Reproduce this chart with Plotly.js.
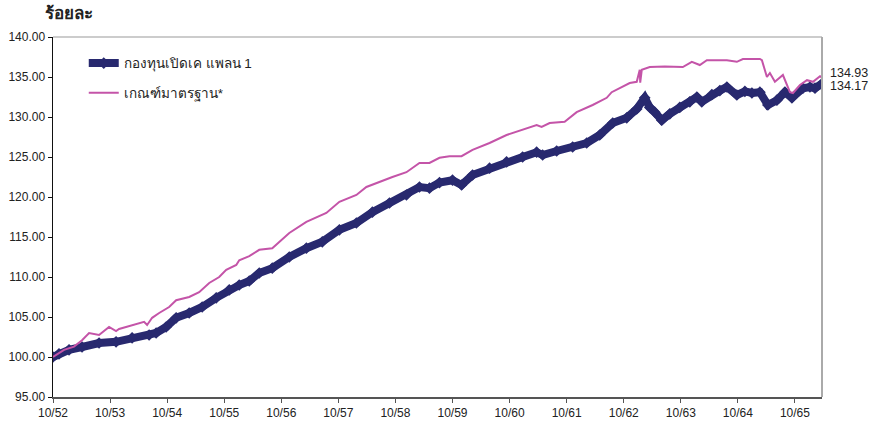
<!DOCTYPE html>
<html>
<head>
<meta charset="utf-8">
<script src="https://cdn.plot.ly/plotly-3.0.1.min.js"></script>
<style>html,body{margin:0;padding:0;background:#fff;}#chart{width:877px;height:421px;}</style>
</head>
<body>
<div id="chart"></div>
<script>
// x: years elapsed since 10/52
const tickVals = [0,1,2,3,4,5,6,7,8,9,10,11,12,13];
const tickLabels = ["10/52","10/53","10/54","10/55","10/56","10/57","10/58","10/59","10/60","10/61","10/62","10/63","10/64","10/65"];

const fundX = [0,0.105,0.281,0.509,0.807,1.105,1.386,1.684,1.807,1.982,2.158,2.386,2.614,2.860,3.088,3.263,3.439,3.614,3.842,4.140,4.439,4.719,5.018,5.316,5.596,5.895,6.193,6.421,6.596,6.772,7.000,7.158,7.351,7.649,7.947,8.228,8.474,8.579,8.825,9.105,9.351,9.579,9.807,10.053,10.228,10.368,10.456,10.544,10.667,10.807,10.982,11.158,11.281,11.368,11.544,11.684,11.807,11.982,12.123,12.246,12.386,12.526,12.684,12.825,12.947,13.140,13.263,13.351,13.474];
const fundY = [100.0,100.4,100.9,101.25,101.75,101.9,102.4,102.75,103.0,103.75,104.9,105.5,106.25,107.4,108.4,109.0,109.5,110.5,111.1,112.5,113.6,114.4,115.9,116.75,118.1,119.25,120.25,121.25,121.1,121.8,122.1,121.5,122.75,123.6,124.4,125.0,125.6,125.25,125.75,126.25,126.75,127.75,129.25,129.9,131.0,132.4,131.2,130.6,129.6,130.4,131.2,131.9,132.5,131.9,132.8,133.3,133.75,132.75,133.2,133.0,133.1,131.5,132.1,133.1,132.4,133.6,133.75,133.6,134.17];

const benchX = [0,0.193,0.368,0.509,0.632,0.807,0.982,1.105,1.158,1.386,1.596,1.649,1.737,1.860,2.035,2.158,2.386,2.561,2.737,2.912,3.035,3.211,3.263,3.439,3.614,3.842,4.140,4.439,4.789,5.018,5.316,5.491,5.719,5.947,6.193,6.421,6.596,6.772,6.947,7.158,7.351,7.649,7.947,8.228,8.474,8.561,8.702,8.965,9.175,9.456,9.702,9.789,9.982,10.105,10.228,10.281,10.289,10.316,10.456,10.719,11.035,11.193,11.333,11.456,11.807,11.982,12.088,12.386,12.421,12.509,12.561,12.649,12.789,12.860,12.912,12.965,13.088,13.211,13.316,13.439,13.474];
const benchY = [100.0,100.9,101.3,102.1,103.0,102.75,103.75,103.25,103.5,104.0,104.4,104.0,104.9,105.5,106.25,107.1,107.5,108.1,109.25,110.0,110.9,111.5,112.1,112.6,113.4,113.6,115.5,116.9,118.0,119.4,120.25,121.25,121.9,122.5,123.1,124.25,124.25,124.9,125.1,125.1,125.9,126.75,127.75,128.4,129.0,128.75,129.25,129.4,130.6,131.5,132.4,133.1,133.75,134.25,134.4,135.9,134.3,135.9,136.25,136.3,136.25,136.9,136.5,137.1,137.1,136.9,137.25,137.25,137.1,135.0,135.5,134.4,135.25,134.0,133.1,133.0,134.0,134.6,134.4,135.1,134.93];

const seriesNames = ["กองทุนเปิดเค แพลน 1","เกณฑ์มาตรฐาน*"];
const endLabels = ["134.93","134.17"];
const yTitle = "ร้อยละ";

const FONT = "Liberation Sans, Arial, Noto Sans, sans-serif";
const traces = [
  {x: fundX, y: fundY, name: seriesNames[0], type: "scatter", mode: "lines+markers",
   line: {color: "#28296f", width: 8}, marker: {symbol: "diamond", size: 9, color: "#28296f"},
   legendgroup: "a"},
  {x: benchX, y: benchY, name: seriesNames[1], type: "scatter", mode: "lines",
   line: {color: "#c454a8", width: 2}, legendgroup: "b"}
];
const layout = {
  width: 877, height: 421,
  margin: {l: 53, r: 55, t: 37, b: 24},
  paper_bgcolor: "#fff", plot_bgcolor: "#fff",
  font: {family: FONT, size: 12, color: "#222"},
  showlegend: true,
  legend: {x: 0.04, y: 0.97, xanchor: "left", yanchor: "top", bgcolor: "rgba(0,0,0,0)",
           font: {size: 13.5, color: "#222"}, traceorder: "grouped", tracegroupgap: 9},
  xaxis: {range: [0, 13.474], tickvals: tickVals, ticktext: tickLabels, showgrid: false, zeroline: false,
          showline: true, linecolor: "#555", linewidth: 2, ticks: "outside", ticklen: 4, tickcolor: "#555",
          tickfont: {size: 12, color: "#222"}},
  yaxis: {range: [95, 140], dtick: 5, tick0: 95, tickformat: ".2f", showgrid: false, zeroline: false,
          showline: true, linecolor: "#111", linewidth: 1.5, ticks: "outside", ticklen: 4, tickcolor: "#111",
          tickfont: {size: 12, color: "#222"}},
  shapes: [
    {type: "line", xref: "paper", yref: "paper", x0: 0, x1: 1, y0: 1, y1: 1, line: {color: "#999", width: 1}},
    {type: "line", xref: "paper", yref: "paper", x0: 1, x1: 1, y0: 0, y1: 1, line: {color: "#aaa", width: 2}}
  ],
  annotations: [
    {text: "<b>" + yTitle + "</b>", xref: "paper", yref: "paper", x: -0.013, y: 1.0, xanchor: "left", yanchor: "bottom",
     yshift: 12, showarrow: false, font: {size: 17, color: "#222"}},
    {text: endLabels[0], xref: "paper", yref: "y", x: 1, y: benchY[benchY.length-1], xanchor: "left", xshift: 6, yshift: 5,
     showarrow: false, font: {size: 12.5, color: "#222"}},
    {text: endLabels[1], xref: "paper", yref: "y", x: 1, y: fundY[fundY.length-1], xanchor: "left", xshift: 6, yshift: -2,
     showarrow: false, font: {size: 12.5, color: "#222"}}
  ]
};
Plotly.newPlot("chart", traces, layout, {displayModeBar: false, staticPlot: true});
</script>
</body>
</html>
